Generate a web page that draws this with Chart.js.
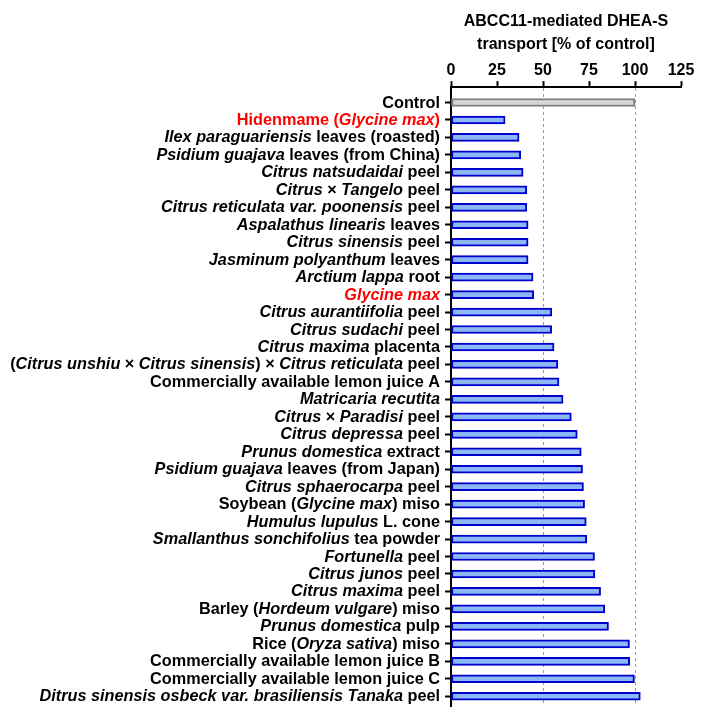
<!DOCTYPE html>
<html>
<head>
<meta charset="utf-8">
<script src="https://cdn.jsdelivr.net/npm/chart.js@4.4.0/dist/chart.umd.min.js"></script>
<style>
  html, body { margin: 0; padding: 0; background: #fff; }
</style>
</head>
<body>
<canvas id="myChart" width="706" height="717"></canvas>
<script>
// text between underscores is drawn in italic
const categories = [
  "Control",
  "Hidenmame (_Glycine max_)",
  "_Ilex paraguariensis_ leaves (roasted)",
  "_Psidium guajava_ leaves (from China)",
  "_Citrus natsudaidai_ peel",
  "_Citrus_ × _Tangelo_ peel",
  "_Citrus reticulata var. poonensis_ peel",
  "_Aspalathus linearis_ leaves",
  "_Citrus sinensis_ peel",
  "_Jasminum polyanthum_ leaves",
  "_Arctium lappa_ root",
  "_Glycine max_",
  "_Citrus aurantiifolia_ peel",
  "_Citrus sudachi_ peel",
  "_Citrus maxima_ placenta",
  "(_Citrus unshiu_ × _Citrus sinensis_) × _Citrus reticulata_ peel",
  "Commercially available lemon juice A",
  "_Matricaria recutita_",
  "_Citrus_ × _Paradisi_ peel",
  "_Citrus depressa_ peel",
  "_Prunus domestica_ extract",
  "_Psidium guajava_ leaves (from Japan)",
  "_Citrus sphaerocarpa_ peel",
  "Soybean (_Glycine max_) miso",
  "_Humulus lupulus_ L. cone",
  "_Smallanthus sonchifolius_ tea powder",
  "_Fortunella_ peel",
  "_Citrus junos_ peel",
  "_Citrus maxima_ peel",
  "Barley (_Hordeum vulgare_) miso",
  "_Prunus domestica_ pulp",
  "Rice (_Oryza sativa_) miso",
  "Commercially available lemon juice B",
  "Commercially available lemon juice C",
  "_Ditrus sinensis osbeck var. brasiliensis Tanaka_ peel",
];

const values = [
  100, 29.4, 37.0, 37.9, 39.2, 41.2, 41.2, 41.9, 41.9, 41.9,
  44.6, 45.0, 54.8, 54.7, 56.0, 58.1, 58.7, 60.9, 65.4, 68.6,
  70.8, 71.5, 72.0, 72.6, 73.5, 73.8, 78.0, 78.2, 81.3, 83.6,
  85.6, 97.0, 97.1, 99.7, 102.9,
];

const redLabels = [1, 11];
const xTicks = [0, 25, 50, 75, 100, 125];
const dashedAt = [50, 100];

const FONT = "'Liberation Sans', Arial, sans-serif";

const richLabels = {
  id: "richLabels",
  afterDraw(chart) {
    const ctx = chart.ctx;
    const yScale = chart.scales.y;
    const right = yScale.right - 11;
    ctx.save();
    ctx.textBaseline = "middle";
    ctx.textAlign = "left";
    categories.forEach((label, i) => {
      const y = yScale.getPixelForValue(i) + 0.5;
      const parts = label
        .split("_")
        .map((text, k) => ({ text, italic: k % 2 === 1 }))
        .filter((p) => p.text);
      let total = 0;
      parts.forEach((p) => {
        ctx.font = (p.italic ? "italic " : "") + "bold 16.25px " + FONT;
        p.w = ctx.measureText(p.text).width;
        total += p.w;
      });
      ctx.fillStyle = redLabels.includes(i) ? "#ff0000" : "#000";
      let x = right - total;
      parts.forEach((p) => {
        ctx.font = (p.italic ? "italic " : "") + "bold 16.25px " + FONT;
        ctx.fillText(p.text, x, y);
        x += p.w;
      });
    });
    ctx.restore();
  },
};

const ctx = document.getElementById("myChart");
new Chart(ctx, {
  type: "bar",
  data: {
    labels: categories.map((c) => c.replace(/_/g, "")),
    datasets: [
      {
        data: values,
        backgroundColor: values.map((v, i) => (i === 0 ? "#d4d4d4" : "#8db8f7")),
        borderColor: values.map((v, i) => (i === 0 ? "#7f7f7f" : "#0000cc")),
        borderWidth: 2,
        borderSkipped: false,
        barThickness: 8,
      },
    ],
  },
  options: {
    indexAxis: "y",
    responsive: false,
    animation: false,
    layout: { padding: { left: 0, right: 25, top: 0, bottom: 11 } },
    plugins: {
      legend: { display: false },
      tooltip: { enabled: false },
      title: {
        display: true,
        text: ["ABCC11-mediated DHEA-S", "transport [% of control]"],
        color: "#000",
        fullSize: false,
        font: { family: FONT, size: 16, weight: "bold", lineHeight: 1.38 },
        padding: { top: 11, bottom: 0 },
      },
    },
    scales: {
      x: {
        position: "top",
        min: 0,
        max: 125,
        afterBuildTicks(scale) {
          scale.ticks = xTicks.map((v) => ({ value: v }));
        },
        afterFit(scale) {
          scale.height = 32;
        },
        ticks: {
          color: "#000",
          padding: 1,
          font: { family: FONT, size: 16, weight: "bold" },
        },
        grid: {
          color: (c) => (c.tick && dashedAt.includes(c.tick.value) ? "#9a9a9a" : "rgba(0,0,0,0)"),
          lineWidth: 1,
          tickColor: "#000",
          tickWidth: 2,
          tickLength: 6,
        },
        border: { color: "#000", width: 2, dash: [3, 3] },
      },
      y: {
        afterBuildTicks(scale) {
          // a little extra room above the first bar
          scale._startValue = -0.88;
          scale._valueRange = 35.44;
        },
        afterFit(scale) {
          scale.width = 451;
        },
        ticks: { display: false },
        grid: {
          offset: false,
          drawOnChartArea: false,
          tickColor: "#000",
          tickWidth: 2,
          tickLength: 6,
        },
        border: { color: "#000", width: 2 },
      },
    },
  },
  plugins: [richLabels],
});
</script>
</body>
</html>
